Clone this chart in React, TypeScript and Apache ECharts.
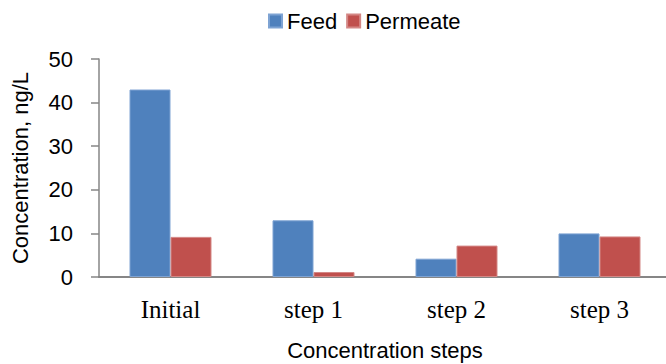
import React, { useEffect, useRef } from "react";
import * as echarts from "echarts";

const categories = ["Initial", "step 1", "step 2", "step 3"];
const feed = [43, 13, 4.2, 10];
const permeate = [9.2, 1.15, 7.2, 9.3];
const yMin = 0;
const yMax = 50;
const yInterval = 10;

export default function App() {
  const ref = useRef<HTMLDivElement>(null);
  useEffect(() => {
    if (!ref.current) return;
    const chart = echarts.init(ref.current, null, { renderer: "svg" });
    const axisColor = "#868686";
    const sans = "'Liberation Sans', Arial, sans-serif";
    chart.setOption({
      animation: false,
      backgroundColor: "#ffffff",
      legend: {
        top: 5,
        left: 263,
        itemWidth: 13,
        itemHeight: 13,
        itemGap: 9,
        icon: "rect",
        textStyle: { fontFamily: sans, fontSize: 22, color: "#000" },
        data: ["Feed", "Permeate"],
      },
      grid: {
        left: 99,
        top: 59,
        width: 572,
        height: 218,
        containLabel: false,
        outerBoundsMode: "none",
      },
      xAxis: {
        type: "category",
        data: categories,
        axisLine: { lineStyle: { color: axisColor, width: 2 } },
        axisTick: { show: false },
        axisLabel: {
          margin: 20,
          fontFamily: "'Liberation Serif', 'Times New Roman', serif",
          fontSize: 25,
          color: "#000",
        },
        name: "Concentration steps",
        nameLocation: "middle",
        nameGap: 62,
        nameTextStyle: { fontFamily: sans, fontSize: 22, color: "#000", lineHeight: 22 },
      },
      yAxis: {
        type: "value",
        min: yMin,
        max: yMax,
        interval: yInterval,
        splitLine: { show: false },
        axisLine: { show: true, lineStyle: { color: axisColor, width: 1.5 } },
        axisTick: { show: true, inside: false, length: 8, lineStyle: { color: axisColor, width: 1.5 } },
        axisLabel: {
          margin: 26,
          fontFamily: sans,
          fontSize: 22,
          color: "#000",
        },
        name: "Concentration, ng/L",
        nameLocation: "middle",
        nameGap: 68,
        nameTextStyle: { fontFamily: sans, fontSize: 22, color: "#000" },
      },
      series: [
        {
          name: "Feed",
          type: "bar",
          data: feed,
          barWidth: 41,
          barGap: "0%",
          itemStyle: { color: "#4F81BD", borderColor: "#7EA3D3", borderWidth: 1 },
        },
        {
          name: "Permeate",
          type: "bar",
          data: permeate,
          barWidth: 41,
          barGap: "0%",
          itemStyle: { color: "#C0504D", borderColor: "#D48785", borderWidth: 1 },
        },
      ],
    });
    return () => chart.dispose();
  }, []);
  return (
    <div
      ref={ref}
      style={{ position: "fixed", left: 0, top: 0, width: 666, height: 364 }}
    />
  );
}
